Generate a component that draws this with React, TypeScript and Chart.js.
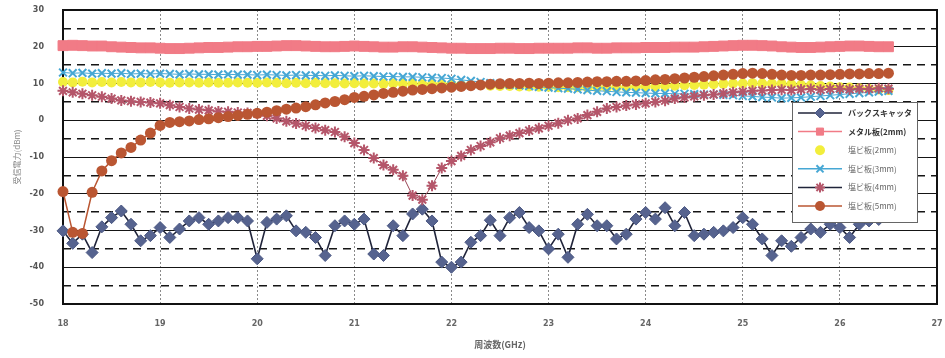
import React, { useEffect, useRef } from 'react';
import { Chart, registerables } from 'chart.js';
import { drawPoint } from 'chart.js/helpers';

Chart.register(...registerables);

// ---- data ----
const FREQ_GHZ = [
  18.0, 18.1, 18.2, 18.3, 18.4, 18.5, 18.6, 18.7, 18.8, 18.9,
  19.0, 19.1, 19.2, 19.3, 19.4, 19.5, 19.6, 19.7, 19.8, 19.9,
  20.0, 20.1, 20.2, 20.3, 20.4, 20.5, 20.6, 20.7, 20.8, 20.9,
  21.0, 21.1, 21.2, 21.3, 21.4, 21.5, 21.6, 21.7, 21.8, 21.9,
  22.0, 22.1, 22.2, 22.3, 22.4, 22.5, 22.6, 22.7, 22.8, 22.9,
  23.0, 23.1, 23.2, 23.3, 23.4, 23.5, 23.6, 23.7, 23.8, 23.9,
  24.0, 24.1, 24.2, 24.3, 24.4, 24.5, 24.6, 24.7, 24.8, 24.9,
  25.0, 25.1, 25.2, 25.3, 25.4, 25.5, 25.6, 25.7, 25.8, 25.9,
  26.0, 26.1, 26.2, 26.3, 26.4, 26.5,
];

const BACKSCATTER = [
  -30.1, -33.5, -31.0, -36.0, -29.0, -26.5, -24.7, -28.3, -32.8, -31.4,
  -29.2, -31.9, -29.6, -27.4, -26.5, -28.3, -27.4, -26.5, -26.5, -27.4,
  -37.7, -27.8, -26.9, -26.0, -30.1, -30.5, -31.9, -36.8, -28.7, -27.4,
  -28.3, -26.9, -36.4, -36.8, -28.7, -31.4, -25.5, -24.2, -27.4, -38.6,
  -40.0, -38.6, -33.2, -31.4, -27.2, -31.4, -26.5, -25.1, -29.2, -30.1,
  -35.0, -31.0, -37.3, -28.3, -25.6, -28.7, -28.7, -32.3, -31.0, -26.9,
  -25.1, -26.9, -23.8, -28.7, -25.1, -31.4, -31.0, -30.5, -30.1, -29.2,
  -26.5, -28.3, -32.3, -36.8, -32.8, -34.3, -31.9, -29.6, -30.5, -28.3,
  -29.2, -31.9, -28.3, -27.4, -27.0, -26.0,
];

const METAL_2MM = [
  20.3, 20.4, 20.3, 20.2, 20.2, 20.0, 19.9, 19.8, 19.7, 19.7,
  19.6, 19.5, 19.5, 19.6, 19.7, 19.8, 19.8, 19.9, 20.0, 20.0,
  20.1, 20.1, 20.2, 20.3, 20.3, 20.2, 20.1, 20.0, 20.0, 20.1,
  20.2, 20.1, 20.0, 19.9, 19.9, 20.0, 20.0, 19.9, 19.8, 19.7,
  19.6, 19.6, 19.5, 19.5, 19.5, 19.6, 19.6, 19.5, 19.5, 19.6,
  19.6, 19.6, 19.6, 19.7, 19.7, 19.6, 19.6, 19.7, 19.7, 19.7,
  19.8, 19.8, 19.8, 19.9, 19.9, 19.9, 20.0, 20.1, 20.2, 20.3,
  20.4, 20.4, 20.3, 20.2, 20.0, 19.9, 19.8, 19.8, 19.9, 20.0,
  20.1, 20.2, 20.2, 20.1, 20.0, 20.0,
];

const PVC_2MM = [
  10.4, 10.3, 10.5, 10.3, 10.4, 10.3, 10.4, 10.3, 10.3, 10.4,
  10.3, 10.2, 10.3, 10.3, 10.2, 10.3, 10.2, 10.2, 10.3, 10.2,
  10.2, 10.3, 10.2, 10.1, 10.2, 10.1, 10.2, 10.1, 10.1, 10.0,
  10.1, 10.0, 10.0, 9.9, 10.0, 9.9, 9.9, 9.8, 9.8, 9.7,
  9.7, 9.6, 9.5, 9.5, 9.4, 9.3, 9.3, 9.2, 9.2, 9.1,
  9.1, 9.0, 9.0, 9.0, 8.9, 8.9, 8.9, 9.0, 9.0, 9.1,
  9.2, 9.2, 9.3, 9.4, 9.5, 9.6, 9.7, 9.8, 9.9, 10.0,
  10.0, 10.1, 10.0, 10.0, 9.9, 9.8, 9.6, 9.5, 9.3, 9.2,
  9.0, 8.9, 8.7, 8.5, 8.4, 8.2,
];

const PVC_3MM = [
  13.0, 12.8, 12.9, 12.7, 12.8, 12.7, 12.8, 12.6, 12.7, 12.6,
  12.7, 12.6, 12.5, 12.6, 12.5, 12.5, 12.4, 12.5, 12.4, 12.4,
  12.3, 12.4, 12.3, 12.2, 12.3, 12.2, 12.2, 12.1, 12.2, 12.1,
  12.0, 12.1, 12.0, 11.9, 11.9, 11.8, 11.8, 11.7, 11.6, 11.5,
  11.3, 11.0, 10.7, 10.4, 10.1, 9.9, 9.7, 9.5, 9.3, 9.1,
  8.9, 8.7, 8.6, 8.4, 8.2, 8.0, 7.9, 7.7, 7.6, 7.5,
  7.4, 7.3, 7.3, 7.2, 7.2, 7.1, 7.0, 7.0, 6.9, 6.8,
  6.6, 6.5, 6.3, 6.2, 6.0, 6.1, 6.2, 6.4, 6.6, 6.8,
  7.0, 7.2, 7.4, 7.6, 7.8, 8.0,
];

const PVC_4MM = [
  8.0, 7.6, 7.2, 6.8, 6.4, 5.9, 5.4, 5.2, 5.0, 4.8,
  4.6, 4.1, 3.6, 3.2, 2.9, 2.7, 2.4, 2.3, 2.1, 2.0,
  1.8, 1.2, 0.5, -0.3, -0.9, -1.5, -2.1, -2.7, -3.2, -4.5,
  -6.2, -8.1, -10.3, -12.2, -13.5, -15.1, -20.5, -21.6, -17.8, -13.0,
  -11.1, -9.7, -8.1, -7.0, -6.0, -4.9, -4.2, -3.5, -2.8, -2.2,
  -1.5, -0.8, 0.0, 0.5, 1.4, 2.3, 3.2, 3.6, 4.0, 4.3,
  4.6, 5.0, 5.3, 5.9, 6.2, 6.5, 6.8, 7.0, 7.3, 7.6,
  7.8, 8.0, 8.1, 8.2, 8.3, 8.2, 8.4, 8.5, 8.3, 8.5,
  8.6, 8.4, 8.6, 8.5, 8.7, 8.6,
];

const PVC_5MM = [
  -19.4, -30.5, -30.8, -19.6, -13.8, -11.0, -8.9, -7.4, -5.4, -3.5,
  -1.4, -0.6, -0.4, -0.2, 0.2, 0.4, 0.7, 1.0, 1.3, 1.6,
  1.9, 2.2, 2.6, 3.0, 3.3, 3.7, 4.2, 4.7, 5.1, 5.6,
  6.2, 6.5, 6.9, 7.3, 7.6, 7.9, 8.2, 8.4, 8.6, 8.8,
  9.0, 9.2, 9.4, 9.6, 9.8, 9.9, 10.0, 10.0, 10.1, 10.0,
  10.1, 10.2, 10.2, 10.3, 10.4, 10.5, 10.5, 10.6, 10.6, 10.7,
  10.8, 11.0, 11.1, 11.3, 11.5, 11.7, 11.9, 12.1, 12.3, 12.5,
  12.7, 12.8, 12.7, 12.5, 12.3, 12.2, 12.2, 12.3, 12.3, 12.4,
  12.5, 12.6, 12.6, 12.7, 12.7, 12.8,
];

const SERIES_LABELS = [
  'バックスキャッタ',
  'メタル板(2mm)',
  '塩ビ板(2mm)',
  '塩ビ板(3mm)',
  '塩ビ板(4mm)',
  '塩ビ板(5mm)',
];
const SERIES_VALUES = [BACKSCATTER, METAL_2MM, PVC_2MM, PVC_3MM, PVC_4MM, PVC_5MM];

const Y_LABELED_TICKS = [30, 20, 10, 0, -10, -20, -30, -40, -50];
const X_TITLE = '周波数(GHz)';
const Y_TITLE = '受信電力(dBm)';

// ---- styles ----
const STYLES = [
  { point: 'rectRot', radius: 6, fill: '#56638f', stroke: '#4b5883', line: '#20243a', lineWidth: 1.6, showLine: true, bw: 1 },
  { point: 'rect', radius: 7, fill: '#f17b86', stroke: '#f17b86', line: '#f17b86', lineWidth: 2, showLine: true, bw: 1 },
  { point: 'circle', radius: 5, fill: '#f2ee3c', stroke: '#f2ee3c', line: '#f2ee3c', lineWidth: 0, showLine: false, bw: 0 },
  { point: 'crossRot', radius: 5.5, fill: '#46a7d4', stroke: '#46a7d4', line: '#46a7d4', lineWidth: 1, showLine: true, bw: 2 },
  { point: 'star', radius: 5.5, fill: '#b5566a', stroke: '#b5566a', line: '#9a4656', lineWidth: 1, showLine: true, bw: 2 },
  { point: 'circle', radius: 5.5, fill: '#ba5632', stroke: '#ba5632', line: '#ba5632', lineWidth: 1.5, showLine: true, bw: 0 },
];
const LEGEND_LINE = ['#20243a', '#f17b86', null, '#46a7d4', '#20243a', '#ba5632'];

const FONT = '"DejaVu Sans", sans-serif';
const CJK = '"Noto Sans CJK JP", "Noto Sans", sans-serif';

const framePlugin = {
  id: 'frame',
  beforeDatasetsDraw(chart: any) {
    const { ctx, chartArea: a } = chart;
    ctx.save();
    ctx.strokeStyle = '#111';
    ctx.lineWidth = 2;
    ctx.strokeRect(a.left, a.top, a.right - a.left, a.bottom - a.top);
    ctx.restore();
  },
};

const boxLegendPlugin = {
  id: 'boxLegend',
  afterDatasetsDraw(chart: any) {
    const { ctx, chartArea: a } = chart;
    const w = 125;
    const h = 120;
    const x0 = a.right - 145;
    const y0 = a.top + 92;
    ctx.save();
    ctx.fillStyle = '#ffffff';
    ctx.fillRect(x0, y0, w, h);
    ctx.strokeStyle = '#666';
    ctx.lineWidth = 1;
    ctx.strokeRect(x0 + 0.5, y0 + 0.5, w, h);
    chart.data.datasets.forEach((ds: any, i: number) => {
      const st = STYLES[i];
      const cy = y0 + 11 + i * 18.6;
      const lc = LEGEND_LINE[i];
      if (lc) {
        ctx.strokeStyle = lc;
        ctx.lineWidth = 1.5;
        ctx.beginPath();
        ctx.moveTo(x0 + 6, cy);
        ctx.lineTo(x0 + 50, cy);
        ctx.stroke();
      }
      ctx.fillStyle = st.fill;
      ctx.strokeStyle = st.stroke;
      ctx.lineWidth = st.bw || 1;
      drawPoint(ctx, { pointStyle: st.point, radius: Math.min(st.radius, 5), rotation: 0, borderWidth: st.bw }, x0 + 28, cy);
      ctx.fillStyle = i < 2 ? '#333' : '#666';
      ctx.font = (i < 2 ? 'bold ' : '') + '8px ' + CJK;
      ctx.textAlign = 'left';
      ctx.textBaseline = 'middle';
      ctx.fillText(ds.label, x0 + 56, cy);
    });
    ctx.restore();
  },
};

export default function App() {
  const canvasRef = useRef<HTMLCanvasElement | null>(null);

  useEffect(() => {
    const canvas = canvasRef.current;
    if (!canvas) return;
    const datasets = SERIES_VALUES.map((vals, i) => {
      const st = STYLES[i];
      return {
        label: SERIES_LABELS[i],
        data: FREQ_GHZ.map((f, k) => ({ x: f, y: vals[k] })),
        showLine: st.showLine,
        borderColor: st.line,
        borderWidth: st.lineWidth,
        backgroundColor: st.fill,
        pointStyle: st.point,
        pointRadius: st.radius,
        pointBackgroundColor: st.fill,
        pointBorderColor: st.stroke,
        pointBorderWidth: st.bw,
        tension: 0,
        clip: false,
        order: SERIES_VALUES.length - i,
      };
    });

    const chart = new Chart(canvas, {
      type: 'scatter',
      data: { datasets },
      options: {
        responsive: false,
        animation: false,
        devicePixelRatio: 1,
        layout: { autoPadding: false, padding: { top: 10, right: 8, left: 0, bottom: 0 } },
        plugins: {
          legend: { display: false },
          tooltip: { enabled: false },
        },
        scales: {
          x: {
            type: 'linear',
            min: 18,
            max: 27,
            afterFit: (s: any) => {
              s.height = 54;
              s.paddingLeft = 0;
              s.paddingRight = 0;
            },
            ticks: {
              stepSize: 1,
              padding: 15,
              color: '#666',
              font: { family: FONT, size: 8, weight: 'bold' },
              callback: (v: any) => String(v),
            },
            grid: { color: '#8a8a8a', lineWidth: 1, drawTicks: false },
            border: { display: false, dash: [2, 2] },
            title: {
              display: true,
              text: X_TITLE,
              color: '#666',
              font: { family: CJK, size: 9, weight: 'bold' },
              padding: { top: 0, bottom: 8 },
            },
          },
          y: {
            type: 'linear',
            min: -50,
            max: 30,
            afterFit: (s: any) => {
              s.width = 63;
              s.paddingTop = 0;
              s.paddingBottom = 0;
            },
            ticks: {
              stepSize: 5,
              autoSkip: false,
              padding: 19,
              color: '#555',
              font: { family: FONT, size: 8, weight: 'bold' },
              callback: (v: any) => (Y_LABELED_TICKS.includes(Number(v)) ? String(v) : ''),
            },
            grid: {
              color: '#151515',
              drawTicks: false,
              lineWidth: (c: any) => (c.tick && Math.abs(c.tick.value) % 10 === 0 ? 1 : 1.4),
            },
            border: {
              display: false,
              dash: (c: any) => (c.tick && Math.abs(c.tick.value) % 10 !== 0 ? [8, 6] : []),
            },
            title: {
              display: true,
              text: Y_TITLE,
              color: '#888',
              font: { family: CJK, size: 8 },
              padding: { top: 12, bottom: 0 },
            },
          },
        },
      },
      plugins: [framePlugin, boxLegendPlugin],
    } as any);

    return () => chart.destroy();
  }, []);

  return (
    <div style={{ position: 'fixed', left: 0, top: 0, width: 945, height: 358, background: '#fff' }}>
      <canvas ref={canvasRef} width={945} height={358} style={{ display: 'block' }} />
    </div>
  );
}
